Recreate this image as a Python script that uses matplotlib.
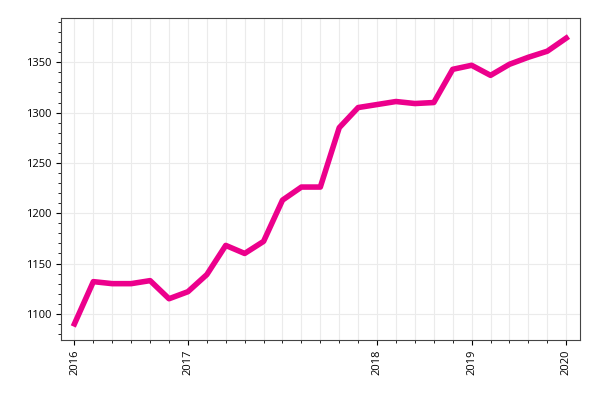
import matplotlib
matplotlib.use("Agg")
import matplotlib.pyplot as plt
from matplotlib.ticker import MultipleLocator

values = [1090, 1132, 1130, 1130, 1133, 1115, 1122, 1139, 1168, 1160, 1172,
          1213, 1226, 1226, 1285, 1305, 1308, 1311, 1309, 1310, 1343, 1347,
          1337, 1348, 1355, 1361, 1374]
year_idx = [0, 6, 16, 21, 26]
year_labels = ["2016", "2017", "2018", "2019", "2020"]

plt.rcParams["font.family"] = ["Open Sans", "DejaVu Sans"]
fig, ax = plt.subplots(figsize=(6, 4), dpi=100)
fig.subplots_adjust(left=0.102, right=0.967, top=0.955, bottom=0.15)

x = list(range(len(values)))
ax.plot(x, values, color="#ec008c", lw=4, solid_joinstyle="round", zorder=3)

ax.set_xlim(-0.7, len(values) - 1 + 0.74)
ax.set_ylim(1074, 1394)
ax.set_xticks(x, minor=True)
ax.set_xticks(year_idx)
ax.set_xticklabels(year_labels, rotation=90, fontsize=8)
ax.yaxis.set_major_locator(MultipleLocator(50))
ax.yaxis.set_minor_locator(MultipleLocator(10))
ax.tick_params(axis="y", labelsize=8)
ax.grid(True, which="major", color="#ebebeb", lw=0.8)
ax.grid(True, which="minor", axis="x", color="#ebebeb", lw=0.8)
for s in ax.spines.values():
    s.set_color("#444444")

fig.savefig("out.png")
